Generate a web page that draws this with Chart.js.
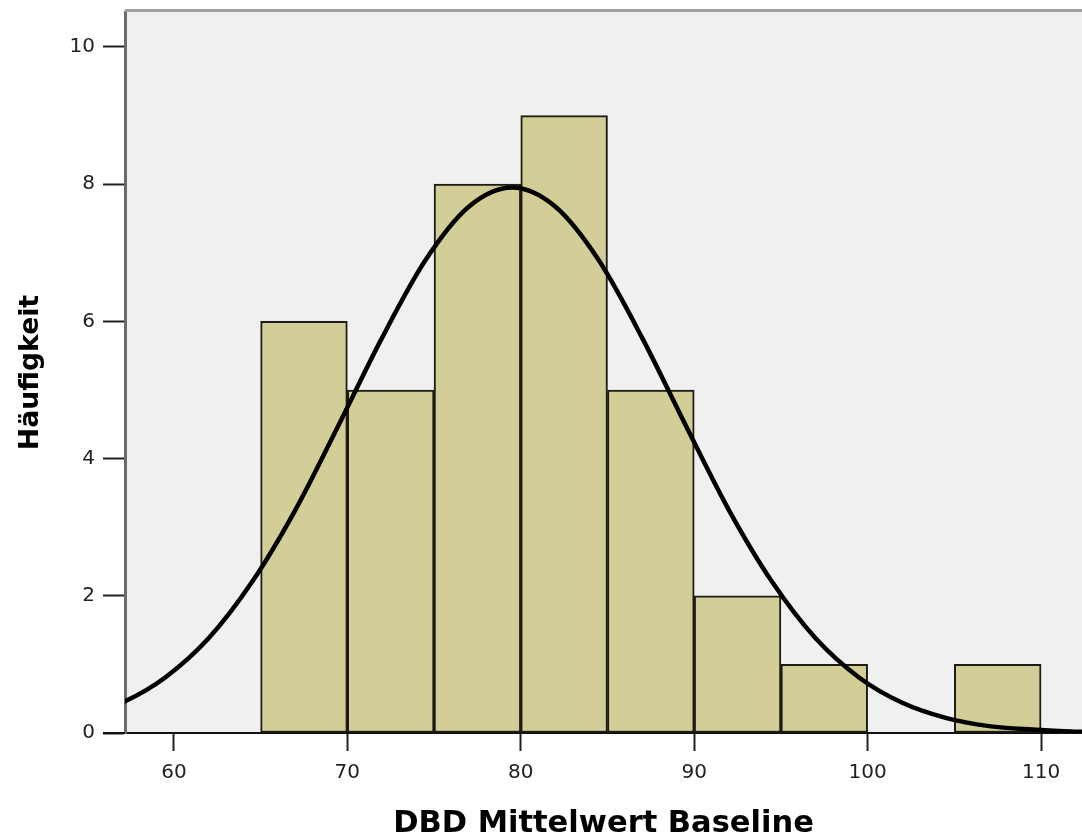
<!DOCTYPE html>
<html>
<head>
<meta charset="utf-8">
<script src="https://cdn.jsdelivr.net/npm/chart.js@4/dist/chart.umd.min.js"></script>
<style>
  html, body { margin: 0; padding: 0; background: #fff; }
</style>
</head>
<body>
<canvas id="histChart" width="1082" height="837"></canvas>
<script>
// histogram bins (centre of each 5-wide bin) and counts
const binCenters = [67.5, 72.5, 77.5, 82.5, 87.5, 92.5, 97.5, 107.5];
const binCounts = [6, 5, 8, 9, 5, 2, 1, 1];

// normal curve (peak near 79.5)
const curveX = [54.5, 57, 59.5, 62, 64.5, 67, 69.5, 72, 74.5, 77, 79.5, 82, 84.5, 87, 89.5, 92, 94.5, 97, 99.5, 102, 104.5, 107, 109.5, 112, 114.5];
const curveY = [0.22, 0.44, 0.81, 1.38, 2.20, 3.25, 4.49, 5.76, 6.89, 7.67, 7.95, 7.67, 6.89, 5.76, 4.49, 3.25, 2.20, 1.38, 0.81, 0.44, 0.22, 0.10, 0.05, 0.02, 0.01];

const xTicks = [60, 70, 80, 90, 100, 110];
const yTicks = [0, 2, 4, 6, 8, 10];

const FONT = "'DejaVu Sans', Verdana, sans-serif";

const plotFrame = {
  id: 'plotFrame',
  beforeDraw(chart) {
    const { ctx, chartArea: a } = chart;
    ctx.save();
    ctx.fillStyle = '#f0f0f0';
    ctx.fillRect(a.left, a.top, a.right - a.left, a.bottom - a.top);
    ctx.restore();
  },
  afterDraw(chart) {
    const { ctx, chartArea: a } = chart;
    ctx.save();
    ctx.strokeStyle = '#a0a0a0';
    ctx.lineWidth = 3;
    ctx.beginPath();
    ctx.moveTo(a.left, a.top - 1.5);
    ctx.lineTo(a.right, a.top - 1.5);
    ctx.stroke();
    // baseline runs a bit past the y axis, like the original
    ctx.strokeStyle = '#111';
    ctx.lineWidth = 2;
    ctx.beginPath();
    ctx.moveTo(a.left - 22, a.bottom);
    ctx.lineTo(a.left, a.bottom);
    ctx.stroke();
    ctx.restore();
  }
};

const ctx = document.getElementById('histChart').getContext('2d');
new Chart(ctx, {
  type: 'bar',
  data: {
    datasets: [
      {
        type: 'line',
        label: 'Normal',
        data: curveX.map((x, i) => ({ x: x, y: curveY[i] })),
        borderColor: '#000',
        borderWidth: 4.5,
        pointRadius: 0,
        cubicInterpolationMode: 'monotone',
        fill: false,
        order: 0
      },
      {
        label: 'Häufigkeit',
        data: binCenters.map((x, i) => ({ x: x, y: binCounts[i] })),
        backgroundColor: '#d3ce97',
        borderColor: '#1c1c14',
        borderWidth: 2,
        borderSkipped: false,
        barPercentage: 1,
        categoryPercentage: 1,
        order: 1
      }
    ]
  },
  options: {
    responsive: false,
    animation: false,
    layout: { padding: { top: 12, right: 0, left: 0, bottom: 0 } },
    plugins: {
      legend: { display: false },
      tooltip: { enabled: false }
    },
    scales: {
      x: {
        type: 'linear',
        min: 57.18,
        max: 112.36,
        offset: false,
        afterFit: (scale) => { scale.height = 104; },
        afterBuildTicks: (scale) => { scale.ticks = xTicks.map(v => ({ value: v })); },
        ticks: {
          font: { family: FONT, size: 20 },
          color: '#222',
          padding: 10,
          maxRotation: 0
        },
        grid: {
          drawOnChartArea: false,
          offset: false,
          tickLength: 18,
          tickWidth: 2,
          tickColor: '#222'
        },
        border: { display: true, color: '#111', width: 2 },
        title: {
          display: true,
          text: 'DBD Mittelwert Baseline',
          font: { family: FONT, size: 30.5, weight: 'bold' },
          color: '#000',
          padding: { top: 0, bottom: -5 }
        }
      },
      y: {
        min: 0,
        max: 10.51,
        afterFit: (scale) => {
          scale.width = 125;
          scale.paddingTop = 0;
          scale.paddingBottom = 0;
        },
        afterBuildTicks: (scale) => { scale.ticks = yTicks.map(v => ({ value: v })); },
        ticks: {
          font: { family: FONT, size: 20 },
          color: '#222',
          padding: 8
        },
        grid: {
          drawOnChartArea: false,
          tickLength: 22,
          tickWidth: 2,
          tickColor: '#222'
        },
        border: { display: true, color: '#6a6a6a', width: 3 },
        title: {
          display: true,
          text: 'Häufigkeit',
          font: { family: FONT, size: 26.7, weight: 'bold' },
          color: '#000',
          padding: { top: 15, bottom: 0 }
        }
      }
    }
  },
  plugins: [plotFrame]
});
</script>
</body>
</html>
